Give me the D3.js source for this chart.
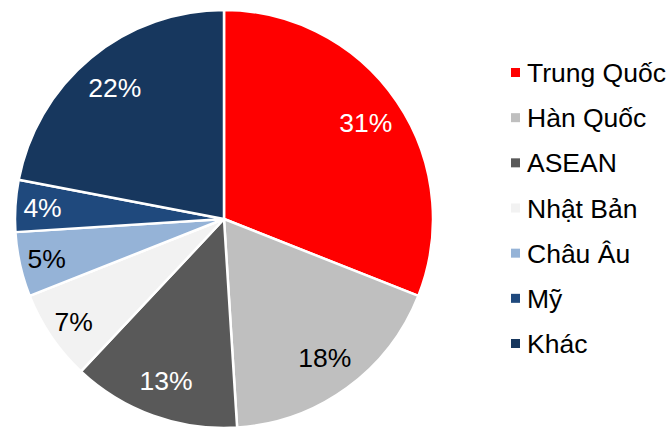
<!DOCTYPE html>
<html>
<head>
<meta charset="utf-8">
<script src="https://cdn.jsdelivr.net/npm/d3@7"></script>
<style>
  html, body { margin: 0; padding: 0; background: #ffffff; }
  svg { display: block; font-family: Arial, "Liberation Sans", sans-serif; }
</style>
</head>
<body>
<svg id="chart" width="671" height="428"></svg>
<script>
// Market shares (%) by partner
const categories = ["Trung Quốc", "Hàn Quốc", "ASEAN", "Nhật Bản", "Châu Âu", "Mỹ", "Khác"];
const shares = [31, 18, 13, 7, 5, 4, 22];
const sliceColors = ["#FF0000", "#BFBFBF", "#595959", "#F2F2F2", "#95B3D7", "#1F497D", "#17375E"];
const labelColors = ["#FFFFFF", "#000000", "#FFFFFF", "#000000", "#000000", "#FFFFFF", "#FFFFFF"];

const svg = d3.select("#chart");
const cx = 224, cy = 219, R = 209;
const fontSize = 26.5;

const data = categories.map((name, i) => ({ name, value: shares[i], i }));

const pie = d3.pie().value(d => d.value).sort(null);
const arcs = pie(data);

const arc = d3.arc().innerRadius(0).outerRadius(R);

const g = svg.append("g").attr("transform", `translate(${cx},${cy})`);

g.selectAll("path.slice")
  .data(arcs)
  .enter().append("path")
  .attr("class", "slice")
  .attr("d", arc)
  .attr("fill", d => sliceColors[d.data.i])
  .attr("stroke", "#FFFFFF")
  .attr("stroke-width", 2.5)
  .attr("stroke-linejoin", "round");

// Percentage labels: small slices get pushed a little further out
const labelArc = d => {
  const r = d.data.value < 10 ? R * 0.87 : R * 0.82;
  return d3.arc().innerRadius(r).outerRadius(r).centroid(d);
};

g.selectAll("text.pct")
  .data(arcs)
  .enter().append("text")
  .attr("class", "pct")
  .attr("x", d => labelArc(d)[0])
  .attr("y", d => labelArc(d)[1])
  .attr("dy", "0.36em")
  .attr("text-anchor", "middle")
  .attr("font-size", fontSize)
  .attr("fill", d => labelColors[d.data.i])
  .text(d => d3.format(".0f")(d.data.value) + "%");

// Legend
const legendY = d3.scalePoint().domain(categories).range([72.5, 343.5]);
const legend = svg.append("g").attr("class", "legend");

const rows = legend.selectAll("g.row")
  .data(data)
  .enter().append("g")
  .attr("class", "row")
  .attr("transform", d => `translate(511,${legendY(d.name)})`);

rows.append("rect")
  .attr("x", 0).attr("y", -4.5)
  .attr("width", 9).attr("height", 9)
  .attr("fill", d => sliceColors[d.i]);

rows.append("text")
  .attr("x", 16)
  .attr("y", 0)
  .attr("dy", "0.36em")
  .attr("font-size", fontSize)
  .attr("fill", "#000000")
  .text(d => d.name);
</script>
</body>
</html>
